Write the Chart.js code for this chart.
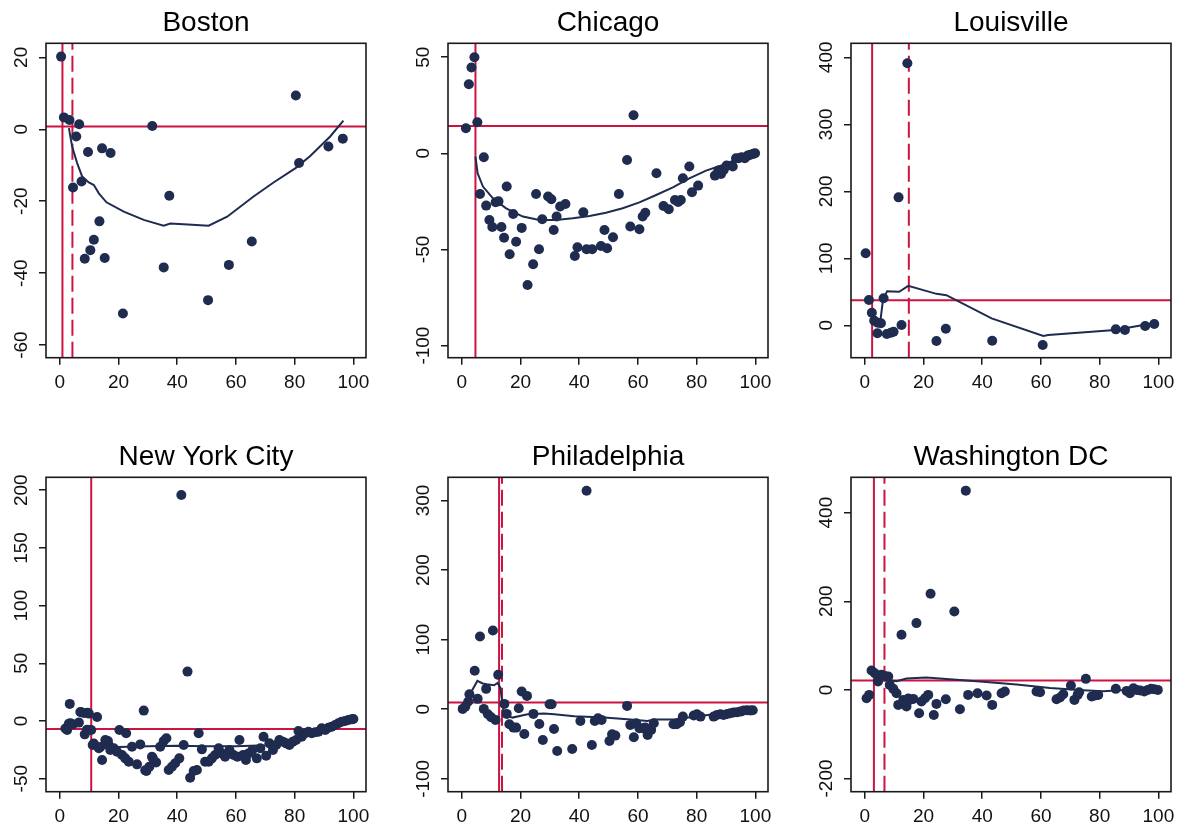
<!DOCTYPE html>
<html>
<head>
<meta charset="utf-8">
<script src="https://cdn.jsdelivr.net/npm/chart.js@4.4.1/dist/chart.umd.min.js"></script>
<style>
  html, body { margin: 0; padding: 0; background: #fff; }
  #wrap { position: relative; width: 1184px; height: 828px; overflow: hidden; background: #fff; }
  canvas { position: absolute; }
</style>
</head>
<body>
<div id="wrap">
  <canvas id="c0" width="386" height="398" style="left:0px;top:0px"></canvas>
  <canvas id="c1" width="386" height="398" style="left:402px;top:0px"></canvas>
  <canvas id="c2" width="386" height="398" style="left:805px;top:0px"></canvas>
  <canvas id="c3" width="386" height="394" style="left:0px;top:434px"></canvas>
  <canvas id="c4" width="386" height="394" style="left:402px;top:434px"></canvas>
  <canvas id="c5" width="386" height="394" style="left:805px;top:434px"></canvas>
</div>
<script>
// ---- data ---------------------------------------------------------------
const cityNames = ['Boston', 'Chicago', 'Louisville', 'New York City', 'Philadelphia', 'Washington DC'];
const xTicks = [0, 20, 40, 60, 80, 100];

// [x, y] observations per city
const bostonPts = [[0.45,20.2],[1.4,3.3],[3.3,2.6],[4.5,-16.2],[5.6,-2.0],[6.6,1.4],[7.4,-14.5],[8.5,-36.0],[9.6,-6.3],[10.4,-33.6],[11.6,-30.7],[13.5,-25.6],[14.4,-5.3],[15.3,-35.8],[17.3,-6.6],[21.5,-51.2],[31.5,0.9],[35.4,-38.4],[37.3,-18.5],[50.5,-47.5],[57.6,-37.7],[65.4,-31.2],[80.4,9.4],[81.5,-9.4],[91.5,-4.8],[96.4,-2.6]];
const chicagoPts = [[1.4,13.0],[2.4,35.9],[3.3,44.6],[4.3,49.9],[5.3,16.1],[6.2,-21.2],[7.5,-2.1],[8.3,-27.2],[9.4,-34.7],[10.4,-38.3],[11.5,-25.5],[12.5,-25.0],[13.5,-38.3],[14.4,-43.9],[15.3,-17.3],[16.3,-52.5],[17.5,-31.6],[18.5,-46.0],[20.4,-38.8],[22.4,-68.5],[24.3,-57.7],[25.3,-21.2],[26.3,-49.9],[27.4,-34.3],[29.4,-22.5],[30.5,-23.9],[31.3,-39.9],[32.3,-32.9],[33.5,-27.7],[35.3,-26.4],[38.5,-53.4],[39.4,-48.9],[41.4,-30.7],[42.5,-49.9],[44.4,-49.9],[47.4,-48.2],[48.6,-39.9],[49.5,-49.4],[51.5,-43.7],[53.5,-21.2],[56.3,-3.5],[57.4,-38.1],[58.5,19.8],[60.5,-39.5],[61.6,-32.9],[62.5,-30.9],[66.3,-10.4],[68.7,-27.4],[70.5,-29.1],[72.6,-24.3],[73.7,-25.3],[74.6,-24.3],[75.3,-13.0],[77.5,-6.9],[78.4,-20.3],[80.5,-16.8],[86.2,-11.6],[87.4,-9.0],[88.3,-10.8],[89.2,-8.7],[90.2,-6.4],[92.3,-6.9],[93.4,-2.6],[94.3,-2.6],[95.3,-2.1],[96.4,-2.6],[97.4,-1.2],[98.3,-0.7],[99.3,-0.3],[99.9,0]];
const louisvillePts = [[0.3,107.5],[1.4,37.8],[2.4,18.9],[3.2,7.0],[4.3,-11.9],[4.4,4.0],[5.5,3.0],[6.4,40.3],[7.5,-12.9],[8.9,-10.9],[9.8,-9.5],[11.5,191],[12.5,0.5],[14.5,391],[24.4,-23.4],[27.6,-5.0],[43.4,-22.9],[60.6,-29.4],[85.5,-6.0],[88.6,-7.0],[95.5,-1.0],[98.6,2.0]];
const nycPts = [[1.9,-6.6],[2.5,-7.8],[3.1,-2.3],[3.4,14.8],[3.6,-2.0],[4.5,-2.9],[6.5,-1.4],[7.0,7.8],[7.3,7.5],[8.2,6.9],[8.5,-11.6],[9.3,-7.5],[9.5,7.2],[9.9,6.4],[10.7,-7.8],[11.2,-20.8],[11.6,-19.6],[12.7,3.5],[13.3,-23.7],[13.8,-22.6],[14.4,-33.9],[15.5,-16.5],[16.4,-17.4],[16.7,-21.0],[17.2,-25.2],[18.4,-23.7],[19.5,-26.6],[20.3,-7.8],[21.2,-29.5],[22.3,-32.4],[22.6,-10.7],[23.5,-35.3],[24.6,-22.3],[26.3,-37.6],[27.4,-20.3],[28.6,9.0],[29.1,-42.8],[29.5,-43.4],[30.5,-39.6],[31.4,-31.0],[31.7,-32.4],[32.8,-35.9],[34.2,-22.3],[35.4,-17.4],[36.3,-15.0],[37.1,-42.5],[38.2,-39.6],[39.3,-36.7],[40.7,-32.4],[41.4,195.9],[42.2,-20.8],[43.5,42.8],[44.4,-49.2],[45.6,-43.4],[46.7,-42.5],[47.3,-10.7],[48.4,-24.6],[49.5,-35.3],[50.7,-35.3],[51.8,-32.4],[52.9,-29.5],[54.1,-23.7],[55.2,-28.1],[56.3,-31.0],[57.8,-25.2],[59.2,-29.5],[60.5,-31.0],[61.2,-16.5],[62.4,-29.5],[63.4,-33.9],[64.3,-28.1],[65.6,-25.2],[67.1,-32.4],[68.3,-23.7],[69.4,-13.6],[70.3,-30.1],[71.4,-19.4],[72.6,-25.2],[73.7,-20.8],[74.8,-16.5],[76.0,-17.9],[77.1,-19.4],[78.2,-20.8],[79.4,-17.9],[80.5,-16.5],[81.3,-8.7],[82.4,-13.6],[83.6,-10.7],[84.7,-9.3],[85.8,-10.7],[87.0,-9.8],[88.1,-9.3],[89.2,-6.4],[90.4,-7.8],[91.5,-5.8],[92.6,-4.9],[93.8,-3.5],[94.9,-2.0],[96.0,-0.6],[97.2,0],[98.3,0.9],[99.4,1.4],[100,1.7]];
const phillyPts = [[0.3,0.5],[1.2,3.8],[2.2,11.0],[2.6,21.6],[4.4,55.2],[5.4,14.9],[6.2,104.6],[7.5,0.5],[8.3,29.3],[8.9,-7.2],[10.0,-11.5],[10.6,113.2],[11.5,-15.3],[12.4,49.4],[14.5,7.7],[15.3,-6.7],[16.2,-21.6],[17.6,-26.4],[18.5,-26.4],[19.4,1.4],[20.4,25.4],[21.3,-35.5],[22.2,19.2],[24.4,-6.7],[26.4,-21.1],[27.6,-44.1],[29.9,7.2],[30.6,7.2],[31.4,-28.3],[32.5,-60.0],[37.6,-57.1],[40.4,-16.8],[42.5,314.1],[44.3,-51.3],[45.3,-16.8],[46.4,-12.9],[47.6,-15.3],[50.3,-45.6],[51.2,-36.0],[52.3,-37.9],[56.3,4.8],[57.4,-22.5],[58.6,-40.3],[59.4,-20.1],[60.5,-27.3],[61.6,-27.3],[62.5,-26.4],[63.3,-36.9],[64.5,-29.7],[65.4,-20.1],[72.1,-21.6],[73.2,-21.6],[74.3,-18.7],[75.3,-10.6],[79.0,-9.1],[80.1,-7.2],[81.3,-10.6],[85.8,-10.6],[86.9,-8.2],[88.1,-7.2],[89.2,-8.2],[90.4,-6.7],[91.5,-5.8],[92.6,-4.8],[93.8,-4.3],[94.9,-3.4],[96.0,-1.9],[97.2,-1.4],[98.3,-1.9],[99.1,-1.4]];
const dcPts = [[0.6,-18.8],[1.5,-11.3],[2.3,43.7],[3.4,37.7],[4.5,18.8],[5.7,33.9],[6.8,31.6],[8.0,30.1],[8.5,11.3],[9.7,2.3],[10.8,-7.5],[11.4,-33.9],[12.5,124.3],[13.1,-22.6],[14.2,-37.7],[14.8,-19.5],[15.3,-22.6],[16.5,-20.3],[17.6,150.7],[18.5,-52.7],[19.3,-26.4],[20.5,-18.8],[21.6,-11.3],[22.4,216.9],[23.5,-56.5],[24.4,-31.6],[27.6,-21.1],[30.5,177],[32.4,-43.7],[34.4,449.7],[35.2,-11.3],[38.4,-7.5],[41.5,-12.8],[43.4,-33.9],[46.6,-7.5],[47.7,-3.8],[58.5,-3.8],[59.7,-5.3],[65.3,-21.1],[66.5,-17.3],[67.6,-9.8],[70.2,9.8],[71.4,-22.6],[72.5,-11.3],[73.0,-5.3],[75.3,24.9],[77.3,-15.1],[78.4,-12.8],[79.5,-11.3],[85.5,2.3],[89.2,-2.3],[90.3,-7.5],[91.5,3.8],[92.6,0],[93.8,-1.5],[95.2,-3.8],[96.4,0],[97.5,2.3],[98.6,1.5],[99.8,0]];

// smoothed fit per city
const bostonFit = [[3.1,0.3],[4.2,-4.8],[5.9,-9.4],[7.6,-13.1],[9.9,-14.8],[11.6,-15.5],[13.3,-17.8],[15.9,-20.3],[21.8,-22.9],[28.6,-25.2],[35.4,-26.8],[37.6,-26.2],[42.2,-26.4],[50.7,-26.8],[57,-24.3],[66,-18.7],[72.8,-14.8],[80.3,-10.8],[85.3,-7.4],[92.1,-2.0],[96.6,2.4]];
const chicagoFit = [[4.65,-1.7],[5.4,-10.4],[7.2,-17.3],[10.6,-23.4],[15.1,-28.6],[20.8,-32.9],[26.4,-34.7],[32.1,-34.7],[37.8,-33.8],[43.5,-32.6],[49.1,-30.9],[54.8,-28.6],[60.5,-25.5],[66.2,-21.7],[71.9,-17.7],[77.5,-13.0],[83.2,-9.0],[88.9,-6.1],[94.6,-2.6],[99.7,-0.3]];
const louisvilleFit = [[5.2,3],[6.2,38],[7.6,51],[11.7,50],[14.8,59],[24.4,47],[27.8,45],[43.2,10.4],[60.8,-15.9],[62.5,-14.4],[85.2,-7],[98.3,3]];
const nycFit = [[11.2,-19],[15,-21.5],[20,-22.5],[30,-22],[40,-21.5],[50,-22],[60,-22],[70,-21],[75,-19],[80,-16],[85,-12],[90,-8],[95,-3],[99.5,1.4]];
const phillyFit = [[2.6,20],[5.3,40.7],[7.1,37],[8.5,36],[11,34.5],[12.2,37.8],[13.1,31],[14.2,-2],[15,-8.6],[17.3,-12],[22.4,-7.2],[28,-6.2],[31.5,-7.2],[38.3,-10],[48.5,-12],[57.5,-14.9],[63.2,-16.8],[65.5,-14.9],[72.3,-14.9],[80.3,-10],[85.9,-7.2],[97.3,-2.4]];
const dcFit = [[2.3,44],[5.1,33.2],[8.5,21.9],[10.8,19.7],[14.2,25.8],[21,28],[29,24.2],[40.3,18.1],[51.7,12.2],[63.1,4.5],[74.4,-0.7],[81.2,-2.9],[91.5,0.8],[99.4,1.6]];

// reference levels: [horizontal y, solid vertical x, dashed vertical x]
const bostonRef = [0.8, 0.9, 4.3];
const chicagoRef = [14.2, 4.65, null];
const louisvilleRef = [37.3, 2.5, 15.0];
const nycRef = [-6.9, 10.7, null];
const phillyRef = [9.6, 12.7, 13.7];
const dcRef = [21.1, 3.1, 6.7];

// y-axis ticks per city
const bostonYTicks = [-60, -40, -20, 0, 20];
const chicagoYTicks = [-100, -50, 0, 50];
const louisvilleYTicks = [0, 100, 200, 300, 400];
const nycYTicks = [-50, 0, 50, 100, 150, 200];
const phillyYTicks = [-100, 0, 100, 200, 300];
const dcYTicks = [-200, 0, 200, 400];

// ---- drawing ------------------------------------------------------------
const FONT = "'Liberation Sans', Arial, Helvetica, sans-serif";
const TICK_SIZE = 19;
const NAVY = '#1f2b4f';
const RED = '#cc1442';
const INK = '#1a1a1a';
const X_RANGE = [-4.7, 104.3];

const panels = [
  { id: 'c0', pts: bostonPts, fit: bostonFit, ref: bostonRef, yTicks: bostonYTicks, yRange: [-63.5, 23.9] },
  { id: 'c1', pts: chicagoPts, fit: chicagoFit, ref: chicagoRef, yTicks: chicagoYTicks, yRange: [-106.3, 57.2] },
  { id: 'c2', pts: louisvillePts, fit: louisvilleFit, ref: louisvilleRef, yTicks: louisvilleYTicks, yRange: [-48.3, 420.9] },
  { id: 'c3', pts: nycPts, fit: nycFit, ref: nycRef, yTicks: nycYTicks, yRange: [-61.3, 211.2] },
  { id: 'c4', pts: phillyPts, fit: phillyFit, ref: phillyRef, yTicks: phillyYTicks, yRange: [-118.5, 333.3] },
  { id: 'c5', pts: dcPts, fit: dcFit, ref: dcRef, yTicks: dcYTicks, yRange: [-229.8, 479.8] }
];

const measureCtx = document.createElement('canvas').getContext('2d');
measureCtx.font = TICK_SIZE + 'px ' + FONT;
function widestLabel(vals) {
  return Math.max(...vals.map(v => measureCtx.measureText(String(v)).width));
}

// closed frame around each plot region
const framePlugin = {
  id: 'frame',
  afterDatasetsDraw(chart) {
    const { ctx, chartArea: a } = chart;
    ctx.save();
    ctx.strokeStyle = INK;
    ctx.lineWidth = 1.6;
    ctx.strokeRect(a.left, a.top, a.width, a.height);
    ctx.restore();
  }
};

const toXY = arr => arr.map(([x, y]) => ({ x, y }));

panels.forEach((p, i) => {
  const [yMin, yMax] = p.yRange;
  const [hY, vSolid, vDash] = p.ref;
  const lineBase = { showLine: true, pointRadius: 0, pointHoverRadius: 0, fill: false, tension: 0 };
  const datasets = [
    { data: toXY(p.pts), showLine: false, pointRadius: 5, pointHoverRadius: 5,
      pointBackgroundColor: NAVY, backgroundColor: NAVY, pointBorderWidth: 0, borderWidth: 0 },
    Object.assign({ data: toXY(p.fit), borderColor: NAVY, borderWidth: 2 }, lineBase),
    Object.assign({ data: [{ x: X_RANGE[0], y: hY }, { x: X_RANGE[1], y: hY }], borderColor: RED, borderWidth: 2 }, lineBase),
    Object.assign({ data: [{ x: vSolid, y: yMin }, { x: vSolid, y: yMax }], borderColor: RED, borderWidth: 2 }, lineBase)
  ];
  if (vDash !== null) {
    datasets.push(Object.assign({ data: [{ x: vDash, y: yMin }, { x: vDash, y: yMax }], borderColor: RED, borderWidth: 2, borderDash: [16, 6] }, lineBase));
  }
  const canvas = document.getElementById(p.id);
  const xAxisHeight = canvas.height - 43.3 - 314.4;
  const yPad = 17 - widestLabel(p.yTicks) / 2;
  const tickGrid = { display: true, drawOnChartArea: false, drawTicks: true, tickLength: 7, color: INK, tickColor: INK, lineWidth: 1.5 };

  new Chart(canvas, {
    type: 'scatter',
    data: { datasets },
    options: {
      responsive: false,
      devicePixelRatio: 1,
      animation: false,
      events: [],
      layout: { padding: { left: 0, right: 20, top: 0, bottom: 0 } },
      plugins: {
        legend: { display: false },
        tooltip: { enabled: false },
        title: {
          display: true, text: cityNames[i], fullSize: false, color: '#000',
          font: { family: FONT, size: 28, weight: 'normal', lineHeight: 1.2 },
          padding: { top: 6.5, bottom: 3.2 }
        }
      },
      scales: {
        x: {
          type: 'linear', min: X_RANGE[0], max: X_RANGE[1],
          afterBuildTicks: s => { s.ticks = xTicks.map(v => ({ value: v })); },
          afterFit: s => { s.height = xAxisHeight; },
          grid: tickGrid, border: { display: false },
          ticks: { minRotation: 0, maxRotation: 0, padding: 7, color: '#111', font: { family: FONT, size: TICK_SIZE } }
        },
        y: {
          type: 'linear', min: yMin, max: yMax,
          afterBuildTicks: s => { s.ticks = p.yTicks.map(v => ({ value: v })); },
          afterFit: s => { s.width = 46; },
          grid: tickGrid, border: { display: false },
          ticks: { minRotation: 90, maxRotation: 90, crossAlign: 'center', padding: yPad, color: '#111', font: { family: FONT, size: TICK_SIZE } }
        }
      }
    },
    plugins: [framePlugin]
  });
});
</script>
</body>
</html>
